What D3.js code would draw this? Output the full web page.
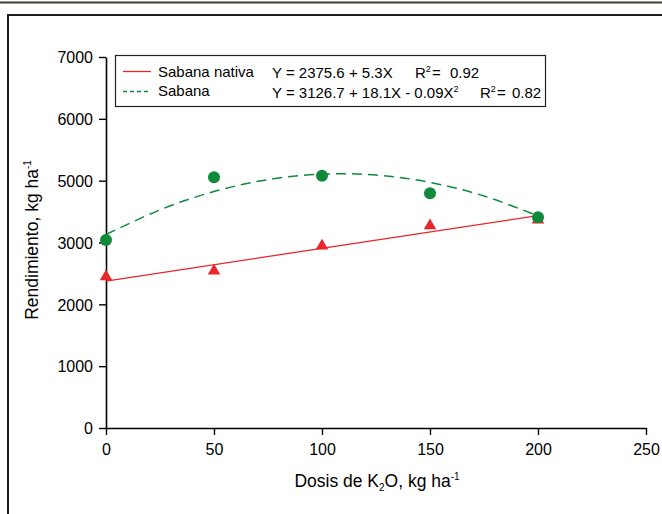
<!DOCTYPE html>
<html>
<head>
<meta charset="utf-8">
<script src="https://cdn.jsdelivr.net/npm/d3@7"></script>
<style>
  html, body { margin: 0; padding: 0; background: #fff; }
  svg { display: block; font-family: "Liberation Sans", Arial, sans-serif; }
</style>
</head>
<body>
<svg id="chart" width="662" height="514"></svg>
<script>
// ---------------- data ----------------
const doses = [0, 50, 100, 150, 200];
const sabanaNativa = [2447, 2539, 2944, 3272, 3364];   // red triangles
const sabana = [3041, 4055, 4080, 3796, 3408];         // green circles

// trend lines
const nativaTrendX = [0, 200];
const nativaTrendY = [2376, 3436];
const sabanaTrendX = [0, 25, 50, 75, 100, 125, 150, 175, 200];
const sabanaTrendY = [3130, 3527, 3825, 4017, 4105, 4092, 3972, 3752, 3430];

const xTicks = [0, 50, 100, 150, 200, 250];
const yTicks = [0, 1000, 2000, 3000, 4000, 5000, 6000];
const yTickLabels = ["0", "1000", "2000", "3000", "5000", "6000", "7000"];

const seriesNames = ["Sabana nativa", "Sabana"];

// ---------------- chart ----------------
const svg = d3.select("#chart");
const RED = "#e8262b", GREEN = "#0e8a3a";
const FONT = "'Liberation Sans', Arial, sans-serif";

// outer frame
svg.append("line").attr("x1", 0).attr("x2", 662).attr("y1", 2.5).attr("y2", 2.5)
  .attr("stroke", "#3a3f38").attr("stroke-width", 2);
svg.append("path").attr("d", "M8,514 V15 H662")
  .attr("fill", "none").attr("stroke", "#1e1e1e").attr("stroke-width", 2);

const x = d3.scaleLinear().domain([0, 250]).range([106, 646]);
const y = d3.scaleLinear().domain([0, 6000]).range([428, 57]);

// axes
const yAxis = svg.append("g").attr("transform", "translate(106,0)")
  .call(d3.axisLeft(y).tickValues(yTicks).tickFormat((d, i) => yTickLabels[i])
    .tickSize(7).tickSizeOuter(0));
yAxis.attr("font-size", 16).attr("font-family", FONT);
yAxis.selectAll("text").attr("x", -13).attr("dy", "0.36em").attr("fill", "#000");

const xAxis = svg.append("g").attr("transform", "translate(0,428)")
  .call(d3.axisBottom(x).tickValues(xTicks).tickFormat(d3.format("d"))
    .tickSize(7).tickSizeOuter(0));
xAxis.attr("font-size", 16).attr("font-family", FONT);
xAxis.selectAll("text").attr("y", 27).attr("dy", 0).attr("fill", "#000");

[yAxis, xAxis].forEach(a => {
  a.select(".domain").attr("stroke", "#000").attr("stroke-width", 1.6);
  a.selectAll(".tick line").attr("stroke", "#000").attr("stroke-width", 1.4);
});

// axis titles
const yTitle = svg.append("text")
  .attr("transform", "translate(38,240) rotate(-90)")
  .attr("text-anchor", "middle").style("font-size", "17.5px");
yTitle.append("tspan").text("Rendimiento, kg ha");
yTitle.append("tspan").attr("dy", -7).style("font-size", "10px").text("-1");

const xTitle = svg.append("text")
  .attr("x", 377).attr("y", 487)
  .attr("text-anchor", "middle").style("font-size", "17.5px");
xTitle.append("tspan").text("Dosis de K");
xTitle.append("tspan").attr("dy", 4).style("font-size", "10px").text("2");
xTitle.append("tspan").attr("dy", -4).text("O, kg ha");
xTitle.append("tspan").attr("dy", -7).style("font-size", "10px").text("-1");

// trend lines
const line = d3.line().x(d => x(d[0])).y(d => y(d[1]));
svg.append("path")
  .datum(nativaTrendX.map((v, i) => [v, nativaTrendY[i]]))
  .attr("d", line).attr("fill", "none").attr("stroke", RED).attr("stroke-width", 1.3);
svg.append("path")
  .datum(sabanaTrendX.map((v, i) => [v, sabanaTrendY[i]]))
  .attr("d", line.curve(d3.curveNatural)).attr("fill", "none")
  .attr("stroke", GREEN).attr("stroke-width", 1.5).attr("stroke-dasharray", "10,6");

// markers
svg.append("g").selectAll("path").data(doses).join("path")
  .attr("transform", (d, i) => `translate(${x(d)},${y(sabanaNativa[i])})`)
  .attr("d", d3.symbol().type(d3.symbolTriangle).size(68))
  .attr("fill", RED);
svg.append("g").selectAll("circle").data(doses).join("circle")
  .attr("cx", d => x(d)).attr("cy", (d, i) => y(sabana[i])).attr("r", 6)
  .attr("fill", GREEN);

// legend
const lg = svg.append("g");
lg.append("rect").attr("x", 115.5).attr("y", 55.5).attr("width", 430).attr("height", 51)
  .attr("fill", "#fff").attr("stroke", "#222").attr("stroke-width", 1.2);
lg.append("line").attr("x1", 123).attr("x2", 151).attr("y1", 71.5).attr("y2", 71.5)
  .attr("stroke", RED).attr("stroke-width", 1.3);
lg.append("line").attr("x1", 123).attr("x2", 151).attr("y1", 91.5).attr("y2", 91.5)
  .attr("stroke", GREEN).attr("stroke-width", 1.3).attr("stroke-dasharray", "4,3");
lg.append("text").attr("x", 158).attr("y", 77).style("font-size", "15px").text(seriesNames[0]);
lg.append("text").attr("x", 158).attr("y", 96).style("font-size", "15px").text(seriesNames[1]);

const e1 = lg.append("text").attr("y", 78).style("font-size", "15px");
e1.append("tspan").attr("x", 272).text("Y = 2375.6 + 5.3X");
e1.append("tspan").attr("x", 415).text("R");
e1.append("tspan").attr("dy", -6).style("font-size", "9px").text("2");
e1.append("tspan").attr("x", 432).attr("dy", 6).text("=");
e1.append("tspan").attr("x", 450).text("0.92");

const e2 = lg.append("text").attr("y", 98).style("font-size", "15px");
e2.append("tspan").attr("x", 272).text("Y = 3126.7 + 18.1X - 0.09X");
e2.append("tspan").attr("dy", -6).style("font-size", "9px").text("2");
e2.append("tspan").attr("x", 480).attr("dy", 6).text("R");
e2.append("tspan").attr("dy", -6).style("font-size", "9px").text("2");
e2.append("tspan").attr("x", 497).attr("dy", 6).text("=");
e2.append("tspan").attr("x", 512).text("0.82");
</script>
</body>
</html>
